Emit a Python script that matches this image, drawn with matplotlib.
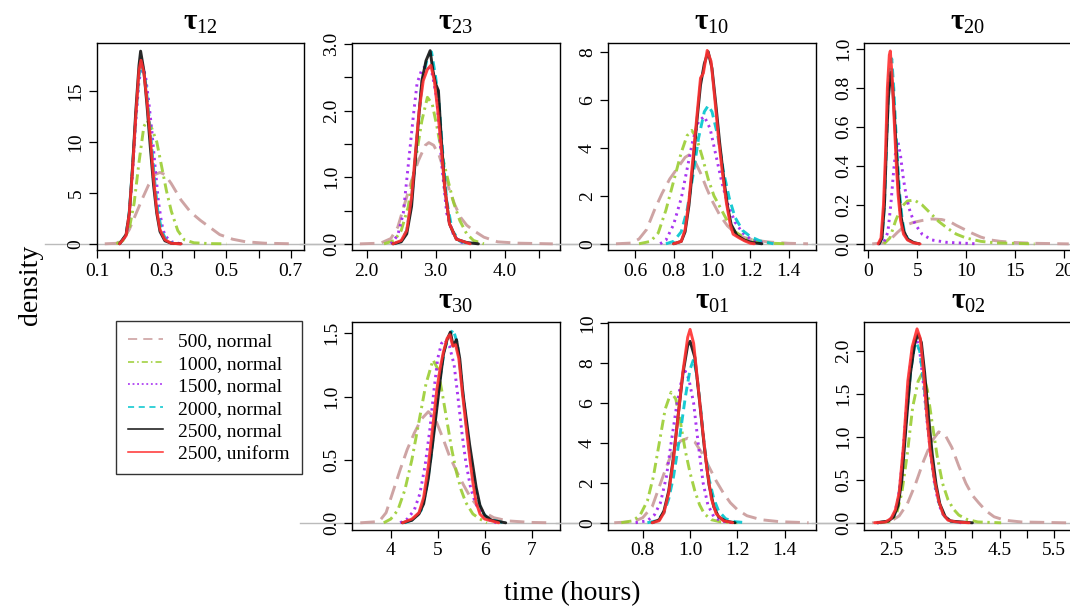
import matplotlib
matplotlib.use("Agg")
import matplotlib.pyplot as plt
from matplotlib.lines import Line2D

plt.rcParams['font.family'] = ['Liberation Serif', 'DejaVu Serif']
plt.rcParams['mathtext.fontset'] = 'custom'
plt.rcParams['mathtext.rm'] = 'Liberation Serif'
plt.rcParams['mathtext.bf'] = 'Liberation Serif:bold'

# ---------------- data ----------------
series_labels = ["500, normal", "1000, normal", "1500, normal",
                 "2000, normal", "2500, normal", "2500, uniform"]
panel_titles = [r"$\mathbf{\tau}_{\mathrm{12}}$", r"$\mathbf{\tau}_{\mathrm{23}}$",
                r"$\mathbf{\tau}_{\mathrm{10}}$", r"$\mathbf{\tau}_{\mathrm{20}}$",
                r"$\mathbf{\tau}_{\mathrm{30}}$", r"$\mathbf{\tau}_{\mathrm{01}}$",
                r"$\mathbf{\tau}_{\mathrm{02}}$"]

# tau_12
t12_500_x = [0.124, 0.16, 0.18, 0.2, 0.22, 0.24, 0.26, 0.28, 0.295, 0.31, 0.33, 0.36, 0.39, 0.42, 0.45, 0.48, 0.52, 0.56, 0.62, 0.71]
t12_500_y = [0, 0.05, 0.4, 1.4, 2.9, 4.4, 5.8, 6.8, 7.0, 6.8, 5.9, 4.3, 3.1, 2.3, 1.6, 0.9, 0.45, 0.2, 0.06, 0]
t12_1000_x = [0.16, 0.18, 0.2, 0.215, 0.23, 0.245, 0.255, 0.27, 0.285, 0.3, 0.315, 0.33, 0.35, 0.37, 0.4, 0.45, 0.5]
t12_1000_y = [0, 0.3, 1.5, 4, 8, 11.5, 12.1, 11.3, 10.0, 7.6, 5.2, 3.2, 1.3, 0.4, 0.1, 0.02, 0]
t12_1500_x = [0.17, 0.19, 0.2, 0.21, 0.22, 0.23, 0.24, 0.25, 0.26, 0.27, 0.28, 0.29, 0.3, 0.31, 0.33, 0.36]
t12_1500_y = [0, 0.8, 2.8, 7, 12, 16, 17.5, 16.5, 14, 11, 7.5, 4.2, 2, 0.8, 0.2, 0]
t12_2000_x = [0.17, 0.19, 0.2, 0.21, 0.22, 0.23, 0.238, 0.248, 0.258, 0.268, 0.278, 0.288, 0.3, 0.315, 0.34]
t12_2000_y = [0, 0.9, 3.2, 7.5, 12.5, 16.5, 17.5, 16.5, 13.5, 10, 6.3, 3.3, 1.3, 0.3, 0]
t12_2500n_x = [0.17, 0.19, 0.2, 0.21, 0.22, 0.23, 0.235, 0.245, 0.255, 0.265, 0.275, 0.285, 0.295, 0.31, 0.33, 0.36]
t12_2500n_y = [0, 0.9, 3, 7.5, 13, 17.5, 18.9, 17, 13.5, 9.5, 5.8, 3, 1.2, 0.3, 0.05, 0]
t12_2500u_x = [0.17, 0.19, 0.2, 0.21, 0.22, 0.23, 0.236, 0.245, 0.255, 0.265, 0.275, 0.285, 0.295, 0.31, 0.33, 0.36]
t12_2500u_y = [0, 0.8, 3, 7.2, 12.5, 17, 18, 16.8, 14, 10.5, 6.5, 3.3, 1.4, 0.4, 0.05, 0]

# tau_23
t23_500_x = [1.9, 2.2, 2.35, 2.45, 2.55, 2.65, 2.75, 2.85, 2.9, 2.97, 3.05, 3.12, 3.2, 3.28, 3.36, 3.45, 3.55, 3.7, 3.9, 4.2, 4.7]
t23_500_y = [0, 0.01, 0.08, 0.25, 0.6, 0.95, 1.25, 1.48, 1.52, 1.48, 1.33, 1.1, 0.8, 0.58, 0.4, 0.28, 0.2, 0.1, 0.03, 0.01, 0]
t23_1000_x = [2.25, 2.4, 2.5, 2.6, 2.7, 2.8, 2.88, 2.95, 3.02, 3.1, 3.18, 3.26, 3.35, 3.45, 3.55, 3.7]
t23_1000_y = [0, 0.05, 0.2, 0.55, 1.2, 1.85, 2.2, 2.1, 1.75, 1.3, 0.95, 0.62, 0.35, 0.15, 0.05, 0]
t23_1500_x = [2.35, 2.45, 2.53, 2.6, 2.68, 2.73, 2.8, 2.87, 2.95, 3.02, 3.09, 3.16, 3.26, 3.35, 3.45]
t23_1500_y = [0, 0.13, 0.46, 1.16, 1.96, 2.41, 2.62, 2.68, 2.55, 2.16, 1.16, 0.46, 0.13, 0.03, 0]
t23_2000_x = [2.4, 2.5, 2.58, 2.65, 2.72, 2.8, 2.87, 2.94, 3.0, 3.05, 3.1, 3.16, 3.24, 3.35, 3.5]
t23_2000_y = [0, 0.04, 0.2, 0.65, 1.5, 2.4, 2.75, 2.88, 2.5, 2.1, 1.4, 0.65, 0.2, 0.04, 0]
t23_2500n_x = [2.38, 2.5, 2.58, 2.65, 2.7, 2.75, 2.8, 2.86, 2.92, 2.96, 3.0, 3.04, 3.08, 3.13, 3.2, 3.3, 3.45, 3.62]
t23_2500n_y = [0, 0.03, 0.15, 0.56, 1.2, 1.85, 2.45, 2.75, 2.9, 2.6, 2.4, 2.3, 1.6, 0.86, 0.3, 0.07, 0.02, 0]
t23_2500u_x = [2.38, 2.5, 2.58, 2.65, 2.7, 2.76, 2.82, 2.88, 2.93, 2.98, 3.03, 3.08, 3.13, 3.2, 3.3, 3.5]
t23_2500u_y = [0, 0.05, 0.2, 0.7, 1.3, 2.0, 2.45, 2.62, 2.68, 2.45, 2.0, 1.45, 0.85, 0.3, 0.07, 0]

# tau_10
t10_500_x = [0.5, 0.58, 0.62, 0.66, 0.7, 0.74, 0.78, 0.82, 0.86, 0.88, 0.91, 0.94, 0.97, 1.0, 1.04, 1.08, 1.12, 1.16, 1.22, 1.3, 1.4, 1.5]
t10_500_y = [0, 0.03, 0.2, 0.6, 1.4, 2.1, 2.7, 3.15, 3.6, 3.7, 3.45, 2.95, 2.35, 1.8, 1.2, 0.75, 0.45, 0.28, 0.15, 0.07, 0.02, 0]
t10_1000_x = [0.62, 0.68, 0.72, 0.76, 0.8, 0.84, 0.87, 0.895, 0.92, 0.95, 0.98, 1.01, 1.04, 1.08, 1.12, 1.18, 1.25, 1.32, 1.39]
t10_1000_y = [0, 0.1, 0.45, 1.4, 2.6, 3.8, 4.5, 4.72, 4.4, 3.6, 2.7, 2.0, 1.55, 0.95, 0.5, 0.2, 0.07, 0.02, 0]
t10_1500_x = [0.73, 0.76, 0.8, 0.84, 0.87, 0.9, 0.93, 0.96, 0.99, 1.02, 1.05, 1.08, 1.12, 1.16, 1.2, 1.28]
t10_1500_y = [0, 0.15, 0.8, 1.9, 3.1, 4.3, 5.1, 5.3, 4.8, 3.7, 2.6, 1.7, 0.9, 0.45, 0.2, 0]
t10_2000_x = [0.76, 0.8, 0.84, 0.87, 0.9, 0.93, 0.96, 0.98, 1.0, 1.03, 1.06, 1.09, 1.12, 1.16, 1.2, 1.25, 1.32]
t10_2000_y = [0, 0.1, 0.5, 1.4, 2.8, 4.4, 5.5, 5.75, 5.5, 4.5, 3.0, 1.9, 1.1, 0.55, 0.3, 0.12, 0]
t10_2500n_x = [0.8, 0.84, 0.86, 0.88, 0.9, 0.92, 0.94, 0.96, 0.98, 1.0, 1.02, 1.04, 1.06, 1.08, 1.1, 1.13, 1.17, 1.21, 1.26]
t10_2500n_y = [0, 0.1, 0.5, 1.6, 3.2, 5.0, 6.6, 7.5, 8.0, 7.3, 5.8, 4.2, 2.8, 1.6, 0.8, 0.35, 0.15, 0.05, 0]
t10_2500u_x = [0.8, 0.84, 0.86, 0.88, 0.9, 0.92, 0.94, 0.955, 0.975, 0.995, 1.015, 1.035, 1.055, 1.075, 1.095, 1.11, 1.14, 1.17, 1.2, 1.22]
t10_2500u_y = [0, 0.1, 0.6, 1.8, 3.5, 5.2, 6.9, 7.1, 8.05, 7.6, 6.0, 4.3, 2.9, 1.7, 0.8, 0.4, 0.25, 0.12, 0.02, 0]

# tau_20
t20_500_x = [0.4, 1.5, 2.2, 3.0, 3.8, 4.6, 5.5, 6.5, 7.5, 8.3, 9.0, 9.8, 10.6, 11.5, 12.5, 13.5, 15, 17, 20.5]
t20_500_y = [0, 0.005, 0.02, 0.06, 0.095, 0.11, 0.12, 0.128, 0.125, 0.115, 0.095, 0.075, 0.055, 0.035, 0.02, 0.013, 0.007, 0.003, 0]
t20_1000_x = [1.6, 2.2, 2.8, 3.4, 4.0, 4.7, 5.5, 6.3, 7.2, 8.1, 9.0, 10, 11.5, 13, 17]
t20_1000_y = [0, 0.03, 0.12, 0.19, 0.22, 0.225, 0.2, 0.16, 0.115, 0.08, 0.05, 0.03, 0.013, 0.005, 0]
t20_1500_x = [1.0, 1.6, 2.0, 2.3, 2.6, 2.85, 3.05, 3.3, 3.6, 3.9, 4.3, 4.8, 5.5, 6.5, 8, 11.2]
t20_1500_y = [0, 0.01, 0.06, 0.2, 0.38, 0.5, 0.52, 0.45, 0.33, 0.24, 0.16, 0.1, 0.05, 0.02, 0.008, 0]
t20_2000_x = [1.1, 1.4, 1.65, 1.85, 2.1, 2.4, 2.6, 2.8, 3.0, 3.2, 3.45, 3.7, 4.1, 4.7, 5.3]
t20_2000_y = [0, 0.03, 0.2, 0.5, 0.85, 0.95, 0.8, 0.6, 0.42, 0.26, 0.13, 0.06, 0.02, 0.005, 0]
t20_2500n_x = [1.1, 1.4, 1.65, 1.85, 2.05, 2.3, 2.5, 2.7, 2.9, 3.1, 3.35, 3.6, 4.0, 4.6, 5.2]
t20_2500n_y = [0, 0.03, 0.2, 0.5, 0.75, 0.88, 0.8, 0.63, 0.45, 0.28, 0.14, 0.07, 0.025, 0.008, 0]
t20_2500u_x = [1.0, 1.3, 1.55, 1.75, 1.95, 2.15, 2.25, 2.45, 2.65, 2.85, 3.05, 3.3, 3.6, 4.0, 4.6, 5.3]
t20_2500u_y = [0, 0.03, 0.2, 0.45, 0.8, 0.97, 0.99, 0.85, 0.63, 0.42, 0.25, 0.12, 0.05, 0.02, 0.005, 0]

# tau_30
t30_500_x = [3.35, 3.75, 3.9, 4.05, 4.2, 4.35, 4.5, 4.65, 4.8, 4.95, 5.1, 5.25, 5.4, 5.55, 5.7, 5.85, 6.0, 6.2, 6.5, 7.0, 7.45]
t30_500_y = [0, 0.01, 0.08, 0.25, 0.42, 0.58, 0.71, 0.82, 0.88, 0.82, 0.68, 0.53, 0.41, 0.3, 0.2, 0.13, 0.08, 0.04, 0.015, 0.003, 0]
t30_1000_x = [3.85, 4.0, 4.15, 4.3, 4.45, 4.6, 4.75, 4.9, 5.0, 5.1, 5.2, 5.3, 5.4, 5.5, 5.6, 5.75, 5.9, 6.05]
t30_1000_y = [0, 0.03, 0.1, 0.26, 0.5, 0.8, 1.1, 1.29, 1.22, 1.02, 0.8, 0.58, 0.4, 0.26, 0.16, 0.07, 0.03, 0]
t30_1500_x = [4.2, 4.35, 4.5, 4.62, 4.73, 4.83, 4.92, 5.0, 5.08, 5.15, 5.25, 5.35, 5.43, 5.52, 5.6, 5.7, 5.8, 5.9, 6.05, 6.25]
t30_1500_y = [0, 0.03, 0.1, 0.23, 0.45, 0.73, 1.05, 1.3, 1.42, 1.45, 1.4, 1.25, 1.0, 0.7, 0.48, 0.28, 0.16, 0.09, 0.03, 0]
t30_2000_x = [4.3, 4.5, 4.65, 4.75, 4.85, 4.95, 5.05, 5.15, 5.25, 5.33, 5.42, 5.5, 5.58, 5.66, 5.75, 5.83, 5.92, 6.05, 6.2, 6.4]
t30_2000_y = [0, 0.03, 0.1, 0.25, 0.5, 0.85, 1.15, 1.38, 1.48, 1.53, 1.42, 1.15, 0.88, 0.6, 0.4, 0.22, 0.1, 0.04, 0.02, 0]
t30_2500n_x = [4.25, 4.45, 4.6, 4.7, 4.8, 4.9, 4.98, 5.05, 5.12, 5.2, 5.27, 5.33, 5.4, 5.47, 5.54, 5.61, 5.68, 5.75, 5.82, 5.9, 6.0, 6.15, 6.45]
t30_2500n_y = [0, 0.02, 0.07, 0.15, 0.35, 0.65, 0.9, 1.12, 1.33, 1.45, 1.51, 1.4, 1.45, 1.3, 1.02, 0.82, 0.62, 0.45, 0.28, 0.14, 0.06, 0.02, 0]
t30_2500u_x = [4.25, 4.45, 4.6, 4.7, 4.8, 4.9, 4.98, 5.05, 5.12, 5.2, 5.26, 5.32, 5.38, 5.45, 5.52, 5.6, 5.68, 5.75, 5.82, 5.9, 6.0, 6.3]
t30_2500u_y = [0, 0.03, 0.08, 0.2, 0.45, 0.78, 1.05, 1.22, 1.35, 1.46, 1.49, 1.4, 1.41, 1.3, 1.05, 0.78, 0.52, 0.32, 0.16, 0.07, 0.03, 0]

# tau_01
t01_500_x = [0.68, 0.76, 0.8, 0.84, 0.87, 0.9, 0.93, 0.96, 0.99, 1.02, 1.05, 1.08, 1.11, 1.14, 1.17, 1.2, 1.24, 1.3, 1.38, 1.5]
t01_500_y = [0, 0.05, 0.25, 0.8, 1.8, 2.8, 3.7, 4.1, 4.24, 4.05, 3.5, 2.8, 2.1, 1.5, 1.0, 0.65, 0.35, 0.15, 0.05, 0]
t01_1000_x = [0.71, 0.76, 0.79, 0.82, 0.845, 0.87, 0.895, 0.92, 0.94, 0.96, 0.98, 1.0, 1.02, 1.04, 1.06, 1.09, 1.13, 1.2]
t01_1000_y = [0, 0.1, 0.4, 1.1, 2.3, 4.0, 5.7, 6.55, 6.2, 5.0, 3.6, 2.5, 1.6, 0.9, 0.45, 0.15, 0.04, 0]
t01_1500_x = [0.77, 0.82, 0.85, 0.875, 0.9, 0.92, 0.945, 0.965, 0.98, 0.995, 1.015, 1.035, 1.055, 1.075, 1.1, 1.13, 1.18]
t01_1500_y = [0, 0.1, 0.4, 1.0, 2.3, 4.0, 6.0, 7.2, 7.6, 7.2, 6.0, 3.9, 2.0, 0.9, 0.3, 0.08, 0]
t01_2000_x = [0.82, 0.86, 0.89, 0.91, 0.93, 0.955, 0.98, 1.0, 1.015, 1.03, 1.045, 1.06, 1.08, 1.1, 1.12, 1.15, 1.19, 1.24]
t01_2000_y = [0, 0.1, 0.5, 1.2, 2.3, 4.2, 6.3, 7.7, 8.2, 7.3, 5.7, 3.9, 2.2, 1.2, 0.6, 0.2, 0.05, 0]
t01_2500n_x = [0.84, 0.87, 0.89, 0.91, 0.93, 0.95, 0.97, 0.99, 1.0, 1.02, 1.04, 1.06, 1.08, 1.1, 1.12, 1.15, 1.19]
t01_2500n_y = [0, 0.15, 0.6, 1.6, 3.3, 5.4, 7.5, 8.9, 9.1, 8.3, 6.1, 3.8, 1.9, 0.8, 0.3, 0.08, 0]
t01_2500u_x = [0.84, 0.87, 0.89, 0.91, 0.93, 0.95, 0.97, 0.99, 1.0, 1.015, 1.03, 1.05, 1.07, 1.09, 1.11, 1.14, 1.18]
t01_2500u_y = [0, 0.1, 0.5, 1.5, 3.2, 5.4, 7.6, 9.3, 9.7, 9.0, 7.3, 5.0, 2.8, 1.2, 0.45, 0.1, 0]

# tau_02
t02_500_x = [2.15, 2.5, 2.65, 2.8, 2.95, 3.1, 3.25, 3.38, 3.5, 3.62, 3.75, 3.88, 4.0, 4.12, 4.25, 4.4, 4.6, 4.9, 5.73]
t02_500_y = [0, 0.02, 0.08, 0.22, 0.45, 0.72, 0.95, 1.06, 1.02, 0.88, 0.66, 0.46, 0.32, 0.23, 0.14, 0.07, 0.03, 0.01, 0]
t02_1000_x = [2.3, 2.5, 2.6, 2.7, 2.8, 2.9, 3.0, 3.08, 3.17, 3.25, 3.35, 3.45, 3.55, 3.65, 3.75, 3.9, 4.1, 4.53]
t02_1000_y = [0, 0.02, 0.1, 0.35, 0.8, 1.35, 1.65, 1.75, 1.55, 1.2, 0.78, 0.46, 0.27, 0.16, 0.09, 0.04, 0.01, 0]
t02_1500_x = [2.25, 2.45, 2.55, 2.63, 2.7, 2.78, 2.86, 2.93, 2.97, 3.03, 3.1, 3.17, 3.24, 3.31, 3.39, 3.48, 3.6, 3.8]
t02_1500_y = [0, 0.02, 0.08, 0.27, 0.65, 1.3, 1.85, 2.12, 2.15, 2.0, 1.6, 1.15, 0.75, 0.42, 0.2, 0.07, 0.02, 0]
t02_2000_x = [2.25, 2.45, 2.55, 2.63, 2.7, 2.78, 2.86, 2.93, 2.97, 3.03, 3.1, 3.17, 3.24, 3.31, 3.39, 3.48, 3.6, 3.8]
t02_2000_y = [0, 0.02, 0.08, 0.25, 0.6, 1.2, 1.75, 2.05, 2.1, 2.0, 1.65, 1.2, 0.8, 0.45, 0.22, 0.08, 0.02, 0]
t02_2500n_x = [2.25, 2.45, 2.55, 2.63, 2.7, 2.78, 2.86, 2.94, 3.0, 3.06, 3.12, 3.19, 3.26, 3.33, 3.4, 3.5, 3.6, 3.8, 4.0]
t02_2500n_y = [0, 0.02, 0.07, 0.2, 0.5, 1.15, 1.75, 2.1, 2.2, 2.1, 1.75, 1.25, 0.8, 0.45, 0.22, 0.07, 0.02, 0.01, 0]
t02_2500u_x = [2.2, 2.4, 2.5, 2.58, 2.65, 2.73, 2.81, 2.89, 2.98, 3.04, 3.1, 3.16, 3.22, 3.3, 3.38, 3.46, 3.55, 3.7, 3.94]
t02_2500u_y = [0, 0.01, 0.05, 0.15, 0.35, 0.9, 1.65, 2.05, 2.26, 2.15, 1.75, 1.25, 0.85, 0.5, 0.25, 0.1, 0.03, 0.01, 0]

# axis ticks (values) and which of them carry labels
t12_xticks = [0.1, 0.2, 0.3, 0.4, 0.5, 0.6, 0.7]
t12_xlabels = ["0.1", "", "0.3", "", "0.5", "", "0.7"]
t12_yticks = [0, 5, 10, 15]
t12_ylabels = ["0", "5", "10", "15"]
t23_xticks = [2.0, 2.5, 3.0, 3.5, 4.0, 4.5]
t23_xlabels = ["2.0", "", "3.0", "", "4.0", ""]
t23_yticks = [0.0, 0.5, 1.0, 1.5, 2.0, 2.5, 3.0]
t23_ylabels = ["0.0", "", "1.0", "", "2.0", "", "3.0"]
t10_xticks = [0.6, 0.8, 1.0, 1.2, 1.4]
t10_xlabels = ["0.6", "0.8", "1.0", "1.2", "1.4"]
t10_yticks = [0, 2, 4, 6, 8]
t10_ylabels = ["0", "2", "4", "6", "8"]
t20_xticks = [0, 5, 10, 15, 20]
t20_xlabels = ["0", "5", "10", "15", "20"]
t20_yticks = [0.0, 0.2, 0.4, 0.6, 0.8, 1.0]
t20_ylabels = ["0.0", "0.2", "0.4", "0.6", "0.8", "1.0"]
t30_xticks = [4, 5, 6, 7]
t30_xlabels = ["4", "5", "6", "7"]
t30_yticks = [0.0, 0.5, 1.0, 1.5]
t30_ylabels = ["0.0", "0.5", "1.0", "1.5"]
t01_xticks = [0.8, 1.0, 1.2, 1.4]
t01_xlabels = ["0.8", "1.0", "1.2", "1.4"]
t01_yticks = [0, 2, 4, 6, 8, 10]
t01_ylabels = ["0", "2", "4", "6", "8", "10"]
t02_xticks = [2.5, 3.0, 3.5, 4.0, 4.5, 5.0, 5.5]
t02_xlabels = ["2.5", "", "3.5", "", "4.5", "", "5.5"]
t02_yticks = [0.0, 0.5, 1.0, 1.5, 2.0]
t02_ylabels = ["0.0", "0.5", "1.0", "1.5", "2.0"]

# ---------------- styles ----------------
colors = ["#C99A9A", "#9ACD32", "#A020F0", "#00C5CD", "#111111", "#FF3030"]
plot_styles = [(0, (5, 2.5)), (0, (3.5, 1.6, 0.8, 1.6)), (0, (0.8, 1.5)),
               (0, (3, 1.8)), "-", "-"]
legend_styles = [(0, (6, 4)), (0, (4, 2, 1, 2)), (0, (1.2, 1.8)),
                 (0, (4, 3)), "-", "-"]

panels = [
    dict(title=panel_titles[0], pos=(0, 0), xlim=(0.1, 0.742), ylim=(-0.656, 19.7),
         xt=t12_xticks, xl=t12_xlabels, yt=t12_yticks, yl=t12_ylabels,
         curves=[(t12_500_x, t12_500_y), (t12_1000_x, t12_1000_y), (t12_1500_x, t12_1500_y),
                 (t12_2000_x, t12_2000_y), (t12_2500n_x, t12_2500n_y), (t12_2500u_x, t12_2500u_y)]),
    dict(title=panel_titles[1], pos=(0, 1), xlim=(1.79, 4.80), ylim=(-0.1, 3.015),
         xt=t23_xticks, xl=t23_xlabels, yt=t23_yticks, yl=t23_ylabels,
         curves=[(t23_500_x, t23_500_y), (t23_1000_x, t23_1000_y), (t23_1500_x, t23_1500_y),
                 (t23_2000_x, t23_2000_y), (t23_2500n_x, t23_2500n_y), (t23_2500u_x, t23_2500u_y)]),
    dict(title=panel_titles[2], pos=(0, 2), xlim=(0.46, 1.54), ylim=(-0.28, 8.36),
         xt=t10_xticks, xl=t10_xlabels, yt=t10_yticks, yl=t10_ylabels,
         curves=[(t10_500_x, t10_500_y), (t10_1000_x, t10_1000_y), (t10_1500_x, t10_1500_y),
                 (t10_2000_x, t10_2000_y), (t10_2500n_x, t10_2500n_y), (t10_2500u_x, t10_2500u_y)]),
    dict(title=panel_titles[3], pos=(0, 3), xlim=(-0.41, 20.8), ylim=(-0.034, 1.031),
         xt=t20_xticks, xl=t20_xlabels, yt=t20_yticks, yl=t20_ylabels,
         curves=[(t20_500_x, t20_500_y), (t20_1000_x, t20_1000_y), (t20_1500_x, t20_1500_y),
                 (t20_2000_x, t20_2000_y), (t20_2500n_x, t20_2500n_y), (t20_2500u_x, t20_2500u_y)]),
    dict(title=panel_titles[4], pos=(1, 1), xlim=(3.18, 7.6), ylim=(-0.053, 1.59),
         xt=t30_xticks, xl=t30_xlabels, yt=t30_yticks, yl=t30_ylabels,
         curves=[(t30_500_x, t30_500_y), (t30_1000_x, t30_1000_y), (t30_1500_x, t30_1500_y),
                 (t30_2000_x, t30_2000_y), (t30_2500n_x, t30_2500n_y), (t30_2500u_x, t30_2500u_y)]),
    dict(title=panel_titles[5], pos=(1, 2), xlim=(0.655, 1.53), ylim=(-0.34, 10.07),
         xt=t01_xticks, xl=t01_xlabels, yt=t01_yticks, yl=t01_ylabels,
         curves=[(t01_500_x, t01_500_y), (t01_1000_x, t01_1000_y), (t01_1500_x, t01_1500_y),
                 (t01_2000_x, t01_2000_y), (t01_2500n_x, t01_2500n_y), (t01_2500u_x, t01_2500u_y)]),
    dict(title=panel_titles[6], pos=(1, 3), xlim=(2.008, 5.83), ylim=(-0.078, 2.34),
         xt=t02_xticks, xl=t02_xlabels, yt=t02_yticks, yl=t02_ylabels,
         curves=[(t02_500_x, t02_500_y), (t02_1000_x, t02_1000_y), (t02_1500_x, t02_1500_y),
                 (t02_2000_x, t02_2000_y), (t02_2500n_x, t02_2500n_y), (t02_2500u_x, t02_2500u_y)]),
]

# ---------------- figure ----------------
W, H = 1070, 608
fig = plt.figure(figsize=(W / 100, H / 100), dpi=100)

col_left = [97, 352.3, 608.3, 864.3]
row_top = [43, 322]
ax_w, ax_h = 207.4, 207.5

for p in panels:
    r, c = p["pos"]
    left = col_left[c] / W
    bottom = 1 - (row_top[r] + ax_h) / H
    ax = fig.add_axes([left, bottom, ax_w / W, ax_h / H])
    ax.axhline(0, xmin=-0.25, xmax=1.25, color="#BBBBBB", lw=1.0, clip_on=False, zorder=1)
    for (xs, ys), col, ls in zip(p["curves"], colors, plot_styles):
        ax.plot(xs, ys, color=col, ls=ls, lw=2.1, alpha=0.9,
                solid_capstyle="round", dash_capstyle="butt", zorder=3)
    ax.set_xlim(*p["xlim"])
    ax.set_ylim(*p["ylim"])
    ax.set_xticks(p["xt"])
    ax.set_xticklabels(p["xl"], fontsize=14)
    ax.set_yticks(p["yt"])
    ax.set_yticklabels(p["yl"], fontsize=14, rotation=90, va="center")
    ax.tick_params(direction="out", length=5.5, width=0.9, pad=3.5, colors="black")
    for s in ax.spines.values():
        s.set_linewidth(1.0)
    ax.set_title(p["title"], fontsize=21, pad=10)

handles = [Line2D([0], [0], color=c, ls=ls, lw=1.1) for c, ls in zip(colors, legend_styles)]
leg = fig.legend(handles, series_labels, loc="upper left",
                 bbox_to_anchor=(116 / W, 1 - 321 / H), bbox_transform=fig.transFigure,
                 fontsize=14, frameon=True, fancybox=False, edgecolor="black",
                 handlelength=1.8, handletextpad=0.8, labelspacing=0.25,
                 borderpad=0.6, borderaxespad=0)
leg.get_frame().set_linewidth(1.0)

fig.text(30 / W, 1 - 285 / H, "density", rotation=90, fontsize=20,
         ha="center", va="center")
fig.text(572 / W, 1 - 594 / H, "time (hours)", fontsize=20, ha="center", va="center")

fig.savefig("out.png", dpi=100)
